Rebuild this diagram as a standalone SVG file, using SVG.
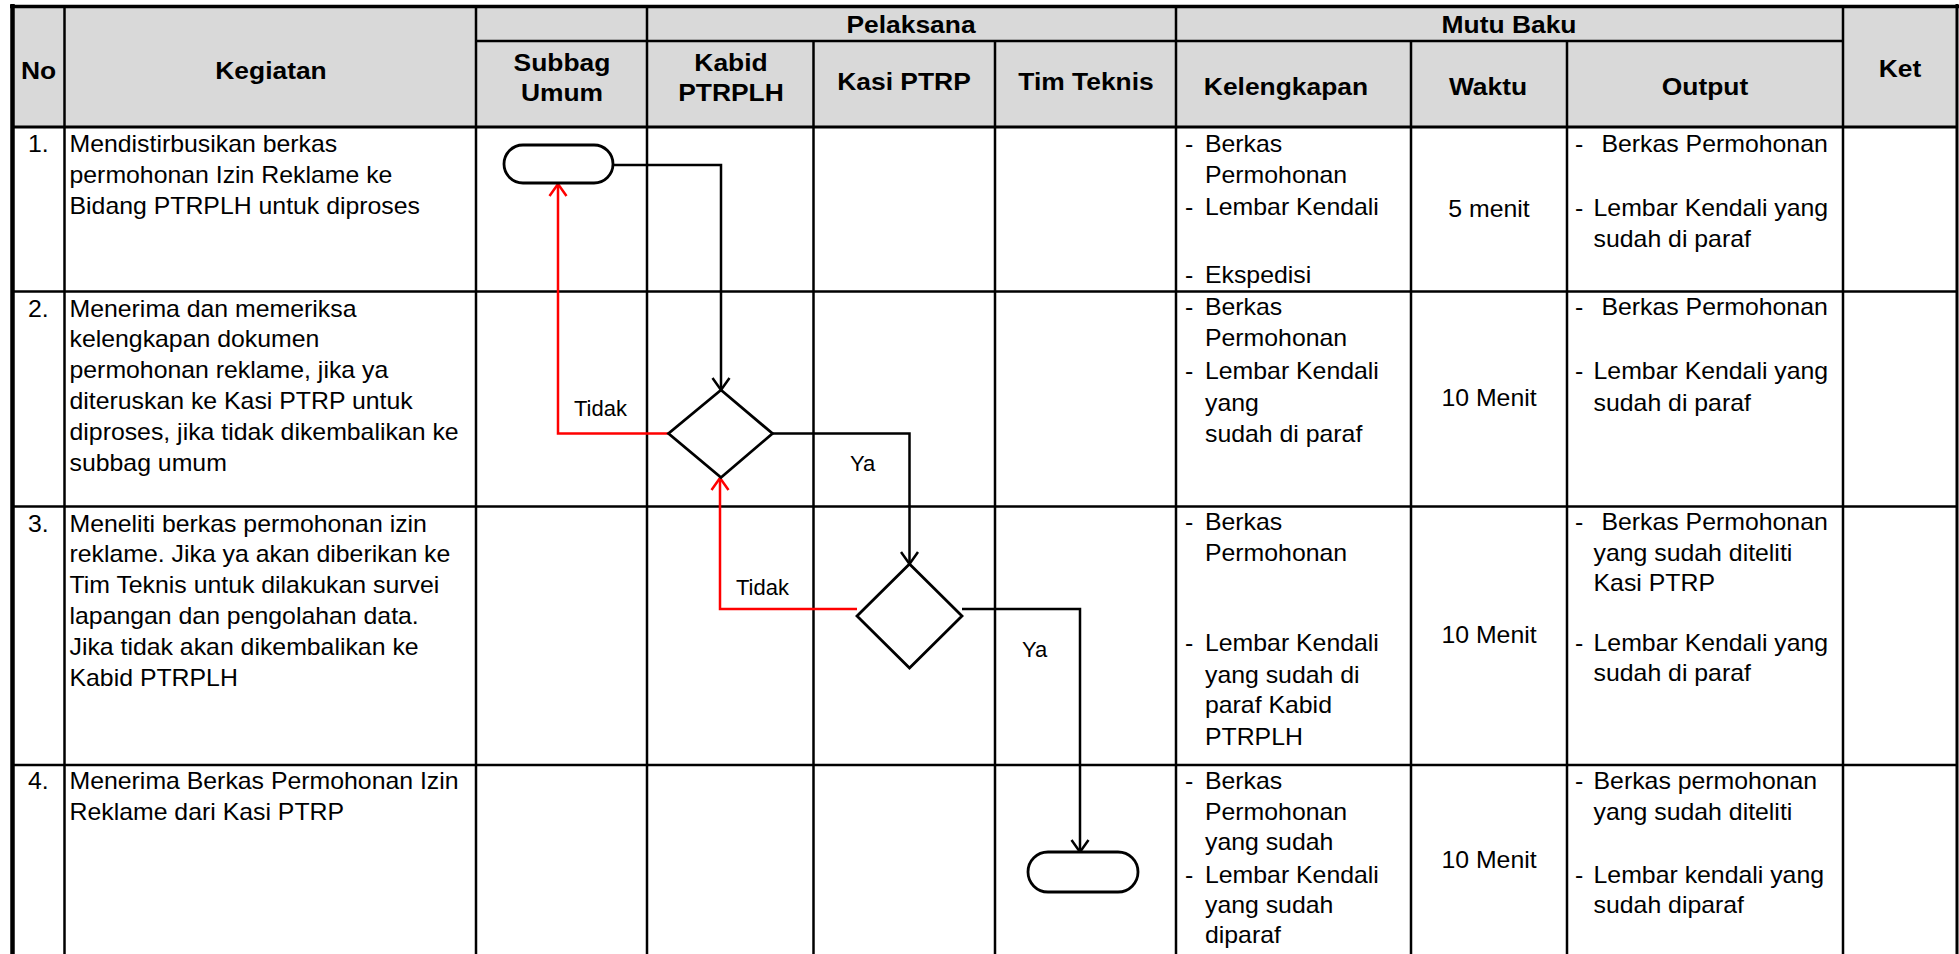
<svg xmlns="http://www.w3.org/2000/svg" width="1959" height="954" viewBox="0 0 1959 954">
<style>
.g{stroke:#000;stroke-width:2.5;fill:none}
.t{font-family:"Liberation Sans",Arial,sans-serif;font-size:23px;fill:#000}
.h{font-family:"Liberation Sans",Arial,sans-serif;font-size:24px;font-weight:bold;text-anchor:middle;fill:#000}
.c{text-anchor:middle}
.l{font-family:"Liberation Sans",Arial,sans-serif;font-size:22px;fill:#000}
.n{fill:#fff;stroke:#000;stroke-width:2.8}
.f{fill:none;stroke:#000;stroke-width:2.5}
.r{fill:none;stroke:#FF0000;stroke-width:2.5}
</style>
<defs>
<marker id="ab" markerUnits="userSpaceOnUse" viewBox="-14 -10 16 20" markerWidth="16" markerHeight="20" refX="0" refY="0" orient="auto"><path d="M-12,-8.5 L0,0 L-12,8.5" fill="none" stroke="#000" stroke-width="2.5"/></marker>
<marker id="ar" markerUnits="userSpaceOnUse" viewBox="-14 -10 16 20" markerWidth="16" markerHeight="20" refX="0" refY="0" orient="auto"><path d="M-12,-8.5 L0,0 L-12,8.5" fill="none" stroke="#FF0000" stroke-width="2.5"/></marker>
</defs>
<rect x="0" y="0" width="1959" height="954" fill="#fff"/>
<g id="table">
<rect x="12" y="6" width="1945" height="121" fill="#D9D9D9"/>
<g class="g">
<line x1="475" y1="41" x2="1843" y2="41"/>
<line x1="12" y1="127" x2="1957" y2="127" stroke-width="3"/>
<line x1="12" y1="291.5" x2="1957" y2="291.5"/>
<line x1="12" y1="506.5" x2="1957" y2="506.5"/>
<line x1="12" y1="765" x2="1957" y2="765"/>
<line x1="64.5" y1="6" x2="64.5" y2="954"/>
<line x1="476" y1="6" x2="476" y2="954"/>
<line x1="647" y1="6" x2="647" y2="954"/>
<line x1="1176" y1="6" x2="1176" y2="954"/>
<line x1="1843" y1="6" x2="1843" y2="954"/>
<line x1="813.5" y1="41" x2="813.5" y2="954"/>
<line x1="995" y1="41" x2="995" y2="954"/>
<line x1="1411" y1="41" x2="1411" y2="954"/>
<line x1="1567" y1="41" x2="1567" y2="954"/>
<line x1="12.5" y1="4" x2="12.5" y2="954" stroke-width="4.5"/>
<line x1="10" y1="6.5" x2="1959" y2="6.5" stroke-width="3.5"/>
<line x1="1957" y1="4" x2="1957" y2="954" stroke-width="3"/>
</g>
</g>
<g id="header">
<text class="h" transform="translate(38.5 79) scale(1.1 1)">No</text>
<text class="h" transform="translate(271 79) scale(1.1 1)">Kegiatan</text>
<text class="h" transform="translate(562 71) scale(1.1 1)"><tspan x="0" y="0">Subbag</tspan><tspan x="0" y="30">Umum</tspan></text>
<text class="h" transform="translate(911 33) scale(1.1 1)">Pelaksana</text>
<text class="h" transform="translate(731 71) scale(1.1 1)"><tspan x="0" y="0">Kabid</tspan><tspan x="0" y="30">PTRPLH</tspan></text>
<text class="h" transform="translate(904 90) scale(1.1 1)">Kasi PTRP</text>
<text class="h" transform="translate(1086 90) scale(1.1 1)">Tim Teknis</text>
<text class="h" transform="translate(1509 33) scale(1.1 1)">Mutu Baku</text>
<text class="h" transform="translate(1286 95) scale(1.1 1)">Kelengkapan</text>
<text class="h" transform="translate(1488 95) scale(1.1 1)">Waktu</text>
<text class="h" transform="translate(1705 95) scale(1.1 1)">Output</text>
<text class="h" transform="translate(1900 77) scale(1.1 1)">Ket</text>
</g>
<g id="row1">
<text class="t" transform="translate(28 152) scale(1.08 1)">1.</text>
<text class="t" transform="translate(69.5 152) scale(1.08 1)"><tspan x="0" y="0">Mendistirbusikan berkas</tspan><tspan x="0" y="31">permohonan Izin Reklame ke</tspan><tspan x="0" y="62">Bidang PTRPLH untuk diproses</tspan></text>
<text class="t" transform="translate(1185 152) scale(1.08 1)"><tspan x="0" y="0">-</tspan><tspan x="18.5" y="0">Berkas</tspan><tspan x="18.5" y="31.5">Permohonan</tspan><tspan x="0" y="63.5">-</tspan><tspan x="18.5" y="63.5">Lembar Kendali</tspan><tspan x="0" y="131">-</tspan><tspan x="18.5" y="131">Ekspedisi</tspan></text>
<text class="t c" transform="translate(1489 216.5) scale(1.08 1)">5 menit</text>
<text class="t" transform="translate(1575 152) scale(1.08 1)"><tspan x="0" y="0">-</tspan><tspan x="24.5" y="0">Berkas Permohonan</tspan><tspan x="0" y="64.5">-</tspan><tspan x="17.2" y="64.5">Lembar Kendali yang</tspan><tspan x="17.2" y="95.5">sudah di paraf</tspan></text>
</g>
<g id="row2">
<text class="t" transform="translate(28 316.5) scale(1.08 1)">2.</text>
<text class="t" transform="translate(69.5 316.5) scale(1.08 1)"><tspan x="0" y="0">Menerima dan memeriksa</tspan><tspan x="0" y="31">kelengkapan dokumen</tspan><tspan x="0" y="62">permohonan reklame, jika ya</tspan><tspan x="0" y="93">diteruskan ke Kasi PTRP untuk</tspan><tspan x="0" y="124">diproses, jika tidak dikembalikan ke</tspan><tspan x="0" y="155">subbag umum</tspan></text>
<text class="t" transform="translate(1185 315) scale(1.08 1)"><tspan x="0" y="0">-</tspan><tspan x="18.5" y="0">Berkas</tspan><tspan x="18.5" y="31.5">Permohonan</tspan><tspan x="0" y="64.5">-</tspan><tspan x="18.5" y="64.5">Lembar Kendali</tspan><tspan x="18.5" y="96">yang</tspan><tspan x="18.5" y="127.5">sudah di paraf</tspan></text>
<text class="t c" transform="translate(1489 406) scale(1.08 1)">10 Menit</text>
<text class="t" transform="translate(1575 315) scale(1.08 1)"><tspan x="0" y="0">-</tspan><tspan x="24.5" y="0">Berkas Permohonan</tspan><tspan x="0" y="64.5">-</tspan><tspan x="17.2" y="64.5">Lembar Kendali yang</tspan><tspan x="17.2" y="96">sudah di paraf</tspan></text>
</g>
<g id="row3">
<text class="t" transform="translate(28 531.5) scale(1.08 1)">3.</text>
<text class="t" transform="translate(69.5 531.5) scale(1.08 1)"><tspan x="0" y="0">Meneliti berkas permohonan izin</tspan><tspan x="0" y="31">reklame. Jika ya akan diberikan ke</tspan><tspan x="0" y="62">Tim Teknis untuk dilakukan survei</tspan><tspan x="0" y="93">lapangan dan pengolahan data.</tspan><tspan x="0" y="124">Jika tidak akan dikembalikan ke</tspan><tspan x="0" y="155">Kabid PTRPLH</tspan></text>
<text class="t" transform="translate(1185 530) scale(1.08 1)"><tspan x="0" y="0">-</tspan><tspan x="18.5" y="0">Berkas</tspan><tspan x="18.5" y="31.5">Permohonan</tspan><tspan x="0" y="121.5">-</tspan><tspan x="18.5" y="121.5">Lembar Kendali</tspan><tspan x="18.5" y="153">yang sudah di</tspan><tspan x="18.5" y="183.5">paraf Kabid</tspan><tspan x="18.5" y="215">PTRPLH</tspan></text>
<text class="t c" transform="translate(1489 643) scale(1.08 1)">10 Menit</text>
<text class="t" transform="translate(1575 530) scale(1.08 1)"><tspan x="0" y="0">-</tspan><tspan x="24.5" y="0">Berkas Permohonan</tspan><tspan x="17.2" y="31.5">yang sudah diteliti</tspan><tspan x="17.2" y="61.5">Kasi PTRP</tspan><tspan x="0" y="121.5">-</tspan><tspan x="17.2" y="121.5">Lembar Kendali yang</tspan><tspan x="17.2" y="151.5">sudah di paraf</tspan></text>
</g>
<g id="row4">
<text class="t" transform="translate(28 789) scale(1.08 1)">4.</text>
<text class="t" transform="translate(69.5 789) scale(1.08 1)"><tspan x="0" y="0">Menerima Berkas Permohonan Izin</tspan><tspan x="0" y="31">Reklame dari Kasi PTRP</tspan></text>
<text class="t" transform="translate(1185 788.5) scale(1.08 1)"><tspan x="0" y="0">-</tspan><tspan x="18.5" y="0">Berkas</tspan><tspan x="18.5" y="31.5">Permohonan</tspan><tspan x="18.5" y="61.5">yang sudah</tspan><tspan x="0" y="94.5">-</tspan><tspan x="18.5" y="94.5">Lembar Kendali</tspan><tspan x="18.5" y="125">yang sudah</tspan><tspan x="18.5" y="155">diparaf</tspan></text>
<text class="t c" transform="translate(1489 868) scale(1.08 1)">10 Menit</text>
<text class="t" transform="translate(1575 788.5) scale(1.08 1)"><tspan x="0" y="0">-</tspan><tspan x="17.2" y="0">Berkas permohonan</tspan><tspan x="17.2" y="31.5">yang sudah diteliti</tspan><tspan x="0" y="94.5">-</tspan><tspan x="17.2" y="94.5">Lembar kendali yang</tspan><tspan x="17.2" y="125">sudah diparaf</tspan></text>
</g>
<g id="connectors">
<path class="f" d="M613,165 H721 V390" marker-end="url(#ab)"/>
<path class="r" d="M668.5,433.5 H558 V184" marker-end="url(#ar)"/>
<path class="f" d="M772.5,433.5 H909.5 V564" marker-end="url(#ab)"/>
<path class="r" d="M857,609 H720 V478" marker-end="url(#ar)"/>
<path class="f" d="M962,609 H1080 V852" marker-end="url(#ab)"/>
<text class="l" x="574" y="416">Tidak</text>
<text class="l" x="850" y="471">Ya</text>
<text class="l" x="736" y="595">Tidak</text>
<text class="l" x="1022" y="657">Ya</text>
</g>
<g id="start"><rect class="n" x="504" y="145" width="109" height="38" rx="19"/></g>
<g id="decision1"><polygon class="n" points="721,390 772.5,433.5 721,477.5 668.5,433.5"/></g>
<g id="decision2"><polygon class="n" points="909.5,564 962,616 909.5,668 857,616"/></g>
<g id="end"><rect class="n" x="1028" y="852" width="110" height="40" rx="20"/></g>
</svg>
